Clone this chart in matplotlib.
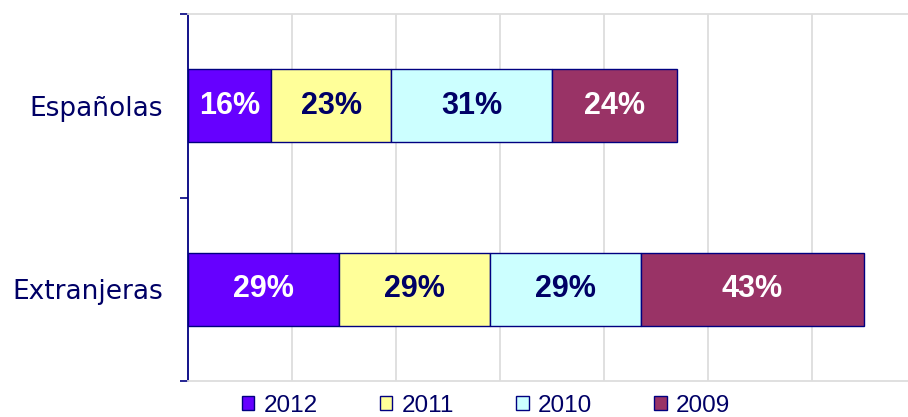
import numpy as np
import matplotlib.pyplot as plt

groups = ['Españolas', 'Extranjeras']
years = ['2012', '2011', '2010', '2009']
shares = {
    '2012': [16, 29],
    '2011': [23, 29],
    '2010': [31, 29],
    '2009': [24, 43],
}
fill = {'2012': '#6600FF', '2011': '#FFFF99', '2010': '#CCFFFF', '2009': '#993366'}
text_col = {'2012': 'white', '2011': '#000066', '2010': '#000066', '2009': 'white'}
navy = '#000080'

fig = plt.figure(figsize=(9.08, 4.17), dpi=100)
ax = fig.add_axes([188 / 908, 1 - 381 / 417, 720 / 908, 367 / 417])

y = np.arange(len(groups))
left = np.zeros(len(groups))
for yr in years:
    vals = np.array(shares[yr], dtype=float)
    bars = ax.barh(y, vals, left=left, height=0.40, color=fill[yr],
                   edgecolor=navy, linewidth=1.0, label=yr, zorder=3)
    for b, v in zip(bars, vals):
        ax.text(b.get_x() + b.get_width() / 2, b.get_y() + b.get_height() / 2,
                f'{v:.0f}%', ha='center', va='center', color=text_col[yr],
                fontsize=22, fontweight='bold', family='Liberation Sans', zorder=4)
    left += vals

ax.set_xlim(0, 138.4)
ax.set_ylim(1.5, -0.5)
ax.set_xticks(np.arange(20, 140, 20))
ax.tick_params(axis='x', length=0, labelbottom=False)
ax.grid(axis='x', color='#DDDDDD', linewidth=1.3, zorder=0)

ax.set_yticks(y)
ax.set_yticklabels(groups, fontsize=19, color='#000066', family='DejaVu Sans')
ax.tick_params(axis='y', which='major', length=0, pad=18)
ax.set_yticks([-0.5, 0.5, 1.5], minor=True)
ax.tick_params(axis='y', which='minor', length=6, width=1.2, color=navy, direction='out')

ax.spines['right'].set_visible(False)
ax.spines['top'].set_color('#DDDDDD')
ax.spines['bottom'].set_color('#DDDDDD')
ax.spines['top'].set_linewidth(1.3)
ax.spines['bottom'].set_linewidth(1.3)
ax.spines['left'].set_color(navy)
ax.spines['left'].set_linewidth(1.3)

handles = [plt.Rectangle((0, 0), 1, 1, facecolor=fill[yr], edgecolor=navy, linewidth=1.0)
           for yr in years]
leg = fig.legend(handles, years, loc='center', bbox_to_anchor=(486 / 908, 1 - 406 / 417),
                 ncol=4, frameon=False, handlelength=0.52, handleheight=0.52,
                 handletextpad=0.38, columnspacing=2.55,
                 prop={'family': 'Liberation Sans', 'size': 17.5})
for t in leg.get_texts():
    t.set_color('#000066')

fig.savefig('out.png', dpi=100)
